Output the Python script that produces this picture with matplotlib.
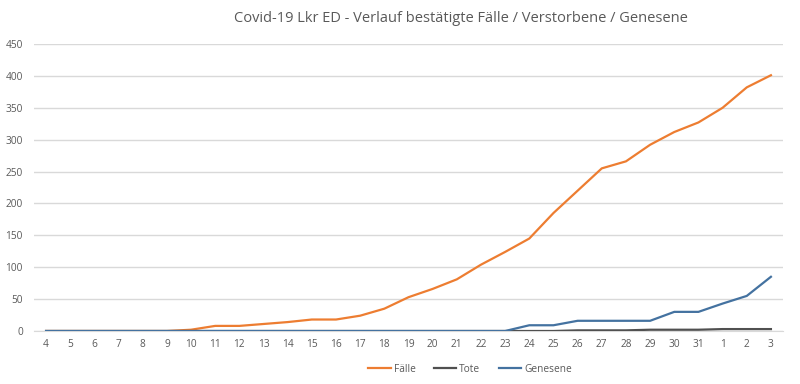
import matplotlib
matplotlib.use("Agg")
import matplotlib.pyplot as plt

days = ["4", "5", "6", "7", "8", "9", "10", "11", "12", "13", "14", "15", "16", "17", "18",
        "19", "20", "21", "22", "23", "24", "25", "26", "27", "28", "29", "30", "31", "1", "2", "3"]
faelle = [0, 0, 0, 0, 0, 0, 2, 8, 8, 11, 14, 18, 18, 24, 35,
          53, 66, 81, 104, 124, 145, 185, 220, 255, 266, 292, 312, 327, 350, 382, 401]
tote = [0, 0, 0, 0, 0, 0, 0, 0, 0, 0, 0, 0, 0, 0, 0,
        0, 0, 0, 0, 0, 0, 0, 1, 1, 1, 2, 2, 2, 3, 3, 3]
genesene = [0, 0, 0, 0, 0, 0, 0, 0, 0, 0, 0, 0, 0, 0, 0,
            0, 0, 0, 0, 0, 9, 9, 16, 16, 16, 16, 30, 30, 43, 55, 85]
yticks = [0, 50, 100, 150, 200, 250, 300, 350, 400, 450]

plt.rcParams['font.family'] = ['Open Sans', 'DejaVu Sans']
txt = '#595959'

fig = plt.figure(figsize=(8, 3.84), dpi=100)
ax = fig.add_axes([34/800, 1-331/384, (783-34)/800, (331-44)/384])

x = list(range(len(days)))
ax.plot(x, faelle, color='#ED7D31', lw=1.6, label='Fälle', zorder=3)
ax.plot(x, tote, color='#505050', lw=1.6, label='Tote', zorder=3)
ax.plot(x, genesene, color='#4472A0', lw=1.6, label='Genesene', zorder=4)

ax.set_xlim(-0.5, len(days)-0.5)
ax.set_ylim(0, 450)
ax.set_yticks(yticks)
ax.set_xticks(x)
ax.set_xticklabels(days)
ax.grid(axis='y', color='#D9D9D9', lw=1)
ax.set_axisbelow(True)
for s in ['top', 'right', 'left']:
    ax.spines[s].set_visible(False)
ax.spines['bottom'].set_color('#D9D9D9')
ax.tick_params(axis='both', length=0, labelsize=7.3, colors=txt)
ax.tick_params(axis='x', pad=6)
ax.tick_params(axis='y', pad=8)

fig.text(461/800, 1-18/384, 'Covid-19 Lkr ED - Verlauf bestätigte Fälle / Verstorbene / Genesene',
         ha='center', va='center', fontsize=10.5, color=txt)

leg = fig.legend(loc='center', bbox_to_anchor=(470/800, 1-369/384), ncol=3, frameon=False,
                 fontsize=7.3, labelcolor=txt, handlelength=2.2, handletextpad=0.3, columnspacing=1.8)

fig.savefig('out.png', dpi=100)
